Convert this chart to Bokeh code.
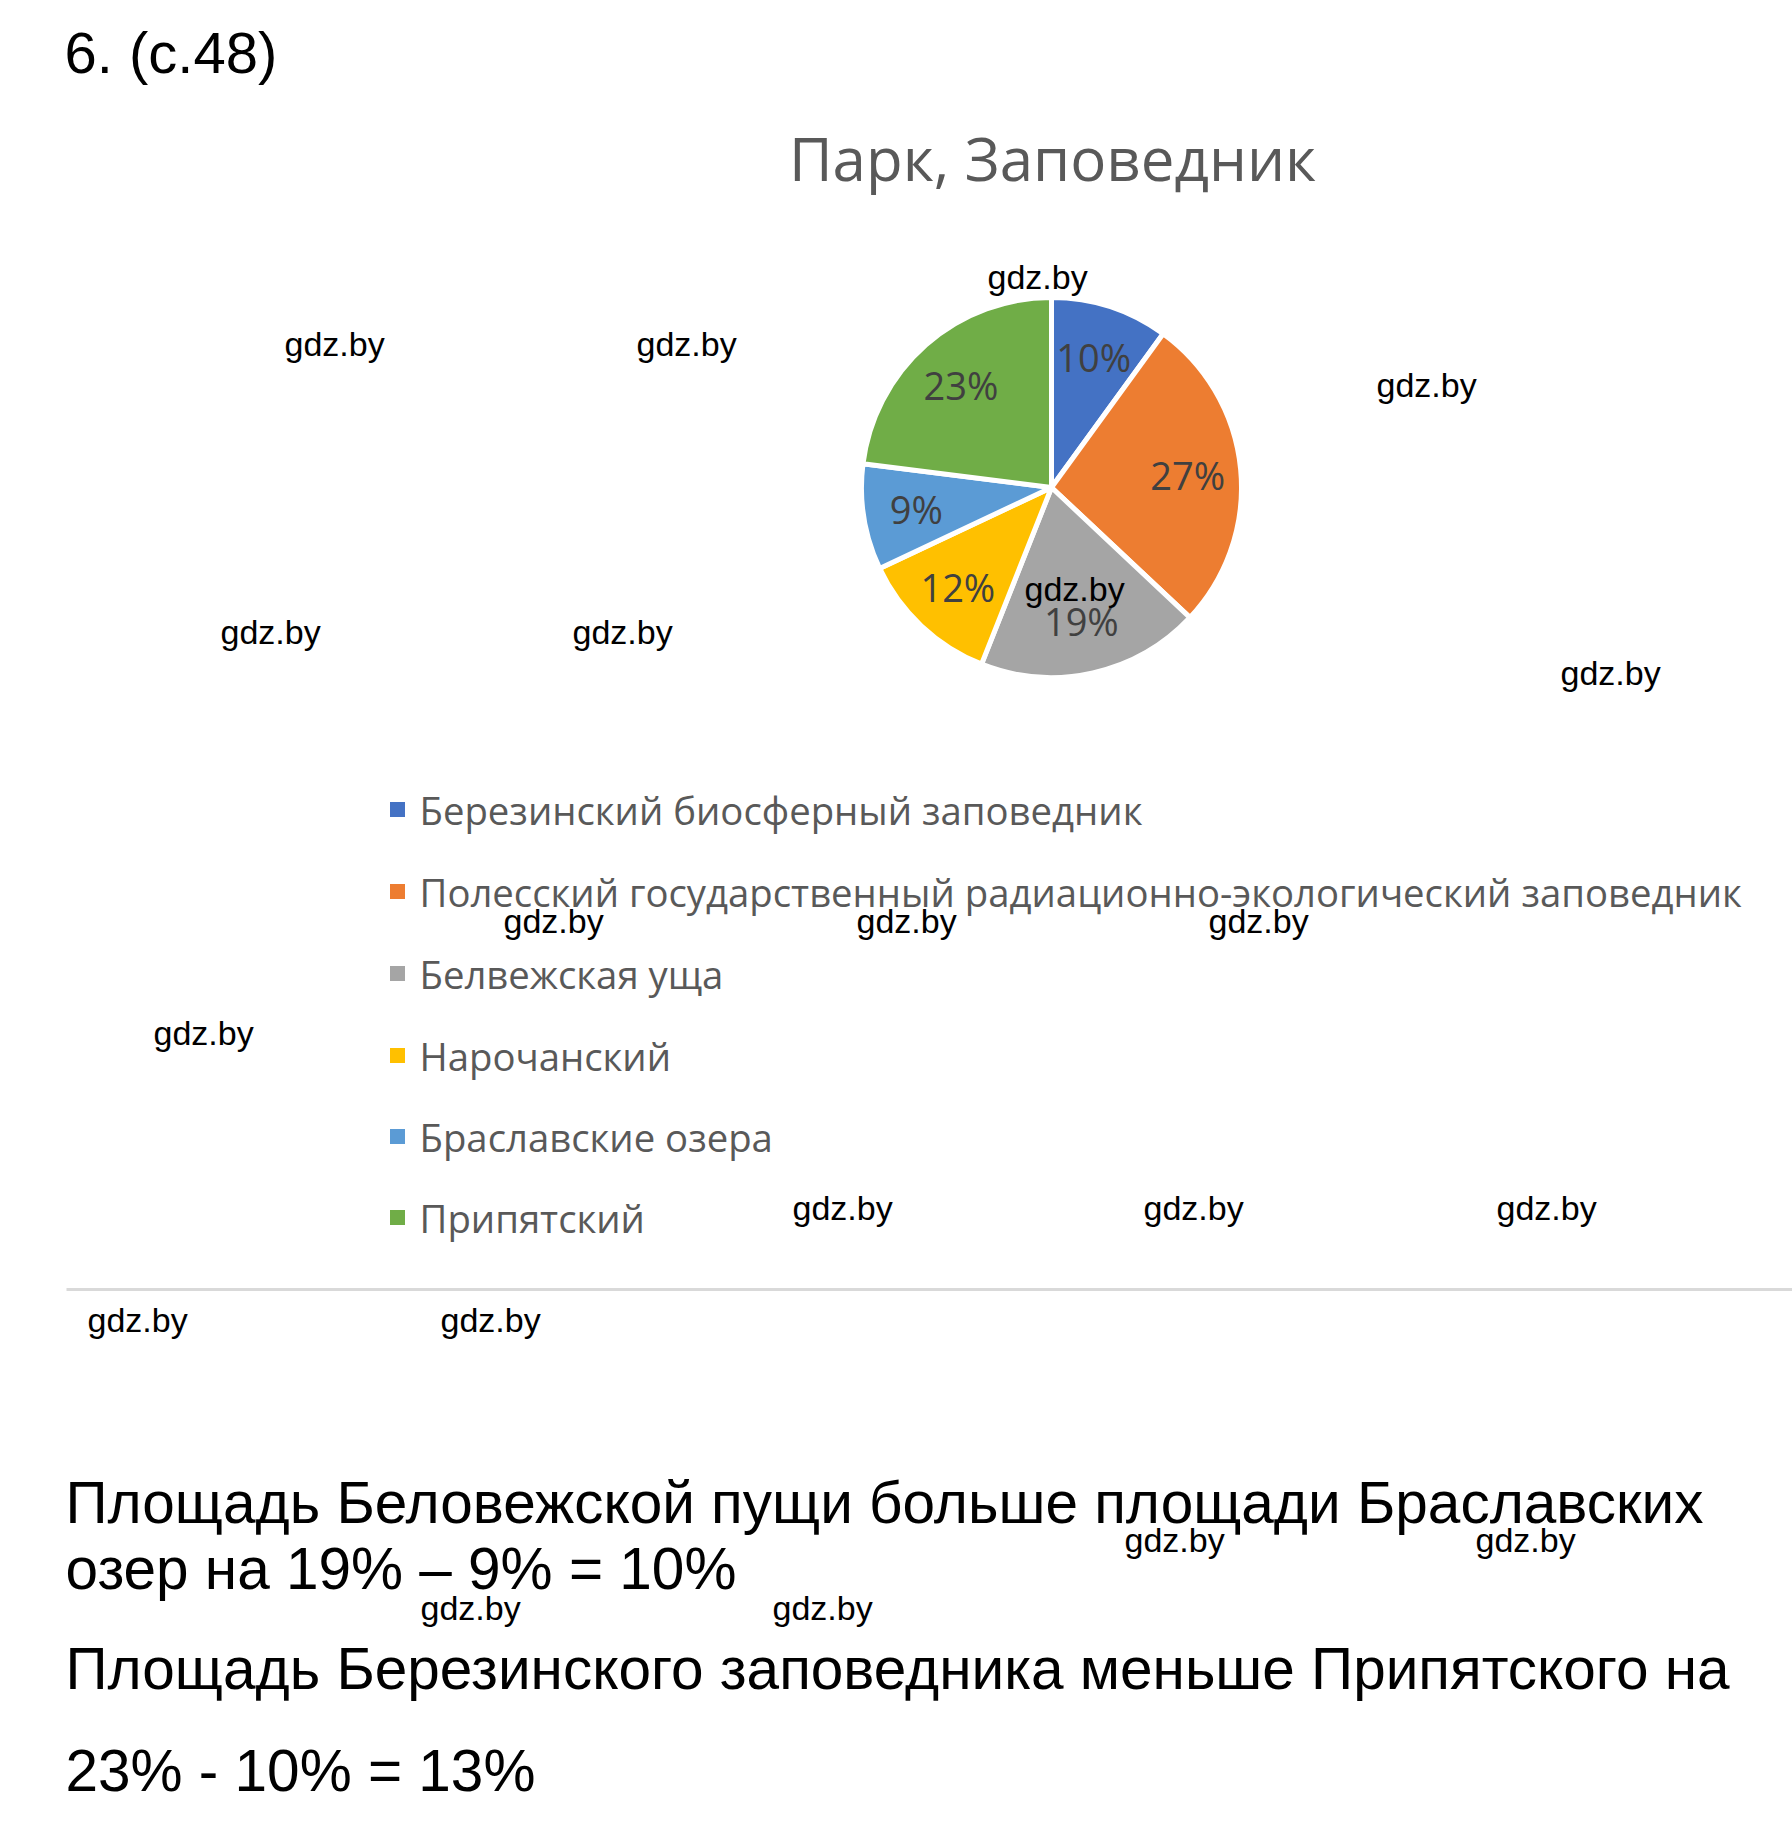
import math
from bokeh.plotting import figure
from bokeh.models import Range1d, ColumnDataSource
from bokeh.core.properties import value
from bokeh.embed import file_html
from bokeh.resources import INLINE

W, H = 1792, 1826

# ---------------- data ----------------
header = "6. (с.48)"
title = "Парк, Заповедник"
categories = [
    "Березинский биосферный заповедник",
    "Полесский государственный радиационно-экологический заповедник",
    "Белвежская уща",
    "Нарочанский",
    "Браславские озера",
    "Припятский",
]
shares = [10, 27, 19, 12, 9, 23]
colors = ["#4472C4", "#ED7D31", "#A5A5A5", "#FFC000", "#5B9BD5", "#70AD47"]
answer_lines = [
    "Площадь Беловежской пущи больше площади Браславских",
    "озер на 19% – 9% = 10%",
    "Площадь Березинского заповедника меньше Припятского на",
    "23% - 10% = 13%",
]
watermark = "gdz.by"

# ---------------- layout (pixels, top-left origin) ----------------
def Y(py):
    return H - py

cx, cy, R = 1051, 487, 190
legend_x_sq, legend_x_txt = 397, 419
legend_y = [809, 891, 973, 1055, 1136, 1217]
answer_x = 65
answer_y = [1502, 1568, 1668, 1770]
wm_pos = [(987, 276), (284, 343), (636, 343), (1376, 384), (220, 631), (572, 631),
          (1024, 588), (1560, 672), (503, 920), (856, 920), (1208, 920), (153, 1032),
          (792, 1207), (1143, 1207), (1496, 1207), (87, 1319), (440, 1319),
          (1124, 1539), (1475, 1539), (420, 1607), (772, 1607)]

p = figure(width=W, height=H, x_range=Range1d(0, W), y_range=Range1d(0, H),
           output_backend="svg", toolbar_location=None, min_border=0,
           x_axis_location=None, y_axis_location=None)
p.grid.visible = False
p.outline_line_color = None
p.background_fill_color = "white"
p.border_fill_color = "white"

# header
p.text(x=[64], y=[Y(52)], text=[header], text_font=value("Liberation Sans"),
       text_font_size="58px", text_color="black", text_align="left",
       text_baseline="alphabetic")

# chart title
p.text(x=[1052], y=[Y(157)], text=[title], text_font=value("Open Sans"),
       text_font_size="60px", text_color="#595959", text_align="center",
       text_baseline="alphabetic")

# pie
total = float(sum(shares))
starts, ends, lx, ly, labels = [], [], [], [], []
cum = 0.0
for v in shares:
    a0 = math.pi / 2 - 2 * math.pi * cum / total
    cum += v
    a1 = math.pi / 2 - 2 * math.pi * cum / total
    starts.append(a0)
    ends.append(a1)
    m = (a0 + a1) / 2
    lx.append(cx + 0.72 * R * math.cos(m))
    ly.append(Y(cy) + 0.72 * R * math.sin(m))
    labels.append(f"{round(100 * v / total)}%")

src = ColumnDataSource(dict(start=starts, end=ends, color=colors, lx=lx, ly=ly, label=labels))
p.wedge(x=cx, y=Y(cy), radius=R, start_angle="start", end_angle="end",
        direction="clock", fill_color="color", line_color="white", line_width=5,
        source=src)
p.text(x="lx", y="ly", text="label", source=src, text_font=value("Open Sans"),
       text_font_size="38px", text_color="#404040", text_align="center",
       text_baseline="middle")

# legend
lsrc = ColumnDataSource(dict(xs=[legend_x_sq] * len(categories),
                             xt=[legend_x_txt] * len(categories),
                             y=[Y(v) for v in legend_y],
                             name=categories, color=colors))
p.rect(x="xs", y="y", width=15, height=15, fill_color="color", line_color=None, source=lsrc)
p.text(x="xt", y="y", text="name", source=lsrc, text_font=value("Open Sans"),
       text_font_size="38.3px", text_color="#595959", text_align="left",
       text_baseline="middle")

# separator line
p.segment(x0=[66], y0=[Y(1289)], x1=[W], y1=[Y(1289)], line_color="#D9D9D9", line_width=3)

# answer text
p.text(x=[answer_x] * len(answer_lines), y=[Y(v) for v in answer_y], text=answer_lines,
       text_font=value("Liberation Sans"), text_font_size="58.5px", text_color="black",
       text_align="left", text_baseline="alphabetic")

# watermarks
p.text(x=[a for a, b in wm_pos], y=[Y(b) for a, b in wm_pos], text=[watermark] * len(wm_pos),
       text_font=value("Liberation Sans"), text_font_size="34px", text_color="black",
       text_align="left", text_baseline="middle")

open("out.html", "w").write(file_html(p, INLINE))
